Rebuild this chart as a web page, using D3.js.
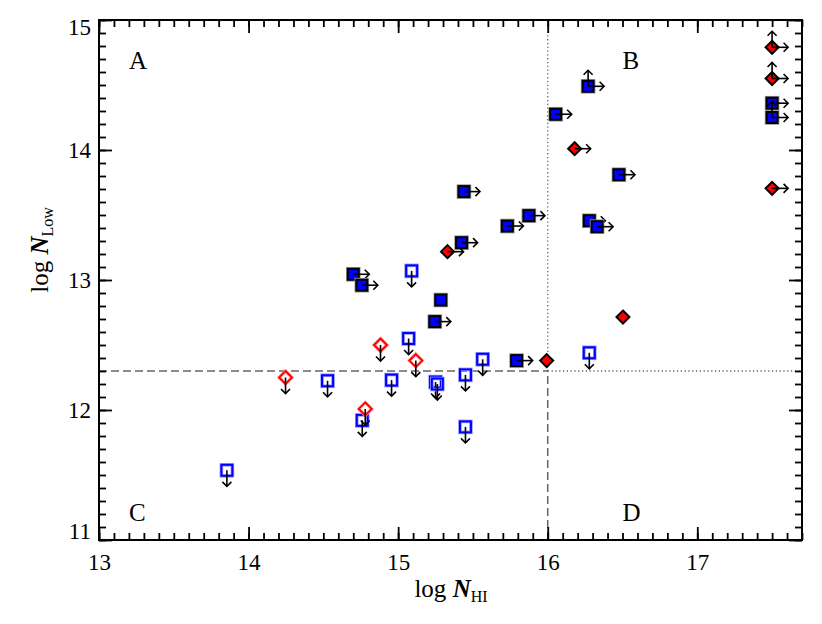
<!DOCTYPE html>
<html>
<head>
<meta charset="utf-8">
<script src="https://cdn.jsdelivr.net/npm/d3@7"></script>
<style>
  body { margin: 0; background: #fff; }
  svg { display: block; font-family: "Liberation Serif", "DejaVu Serif", serif; }
  svg text { font-family: "Liberation Serif", "DejaVu Serif", serif !important; }
</style>
</head>
<body>
<svg id="chart" width="822" height="624"></svg>
<script>
// limits: "r" = lower limit on N_HI (arrow right), "u" = lower limit on N_Low (arrow up)
const blueDetections = [
  [15.44, 13.68, "r"], [15.73, 13.415, "r"], [15.874, 13.495, "r"], [15.424, 13.287, "r"],
  [14.70, 13.044, "r"], [14.757, 12.96, "r"], [15.285, 12.846, ""], [15.245, 12.68, "r"],
  [17.5, 14.36, "r"], [17.5, 14.25, "ur"], [16.27, 14.49, "ur"], [16.053, 14.275, "r"],
  [16.476, 13.81, "r"], [16.278, 13.456, "r"], [16.33, 13.41, "r"], [15.792, 12.38, "r"]
];
const redDetections = [
  [15.33, 13.218, "r"], [17.5, 14.79, "ur"], [17.5, 14.55, "ur"], [17.5, 13.705, "r"],
  [16.18, 14.01, "r"], [16.503, 12.715, ""], [15.993, 12.38, ""]
];
// upper limits on N_Low (arrow down)
const blueUpperLimits = [
  [15.09, 13.07], [16.278, 12.44], [15.07, 12.55], [14.528, 12.225], [14.956, 12.23],
  [15.25, 12.215], [15.262, 12.2], [15.45, 12.27], [15.565, 12.39], [14.76, 11.92],
  [15.45, 11.87], [13.855, 11.536]
];
const redUpperLimits = [
  [14.882, 12.50], [15.118, 12.38], [14.247, 12.25], [14.78, 12.008]
];
const xTicks = [13, 14, 15, 16, 17];
const yTicks = [11, 12, 13, 14, 15];
const nhiCut = 16;
const nlowCut = 12.3;
const quadrants = [["A", 13.2, 14.62], ["B", 16.5, 14.62], ["C", 13.2, 11.15], ["D", 16.5, 11.15]];

const svg = d3.select("#chart");
const margin = { left: 99, right: 20, top: 20, bottom: 84 };
const width = 822, height = 624;
const serif = "Liberation Serif, DejaVu Serif, serif";

const x = d3.scaleLinear().domain([13, 17.7]).range([margin.left, width - margin.right]);
const y = d3.scaleLinear().domain([11, 15]).range([height - margin.bottom, margin.top]);

const x0 = x.range()[0], x1 = x.range()[1];
const y0 = y.range()[0], y1 = y.range()[1];

// reference cuts
const refs = svg.append("g").attr("stroke", "#666").attr("fill", "none");
refs.append("line")
  .attr("x1", x0).attr("x2", x(nhiCut)).attr("y1", y(nlowCut)).attr("y2", y(nlowCut))
  .attr("stroke-width", 1.5).attr("stroke-dasharray", "8,4");
refs.append("line")
  .attr("x1", x(nhiCut)).attr("x2", x1).attr("y1", y(nlowCut)).attr("y2", y(nlowCut))
  .attr("stroke-width", 1.3).attr("stroke-dasharray", "1.3,2.5");
refs.append("line")
  .attr("x1", x(nhiCut)).attr("x2", x(nhiCut)).attr("y1", y0).attr("y2", y(nlowCut))
  .attr("stroke-width", 1.5).attr("stroke-dasharray", "8,4");
refs.append("line")
  .attr("x1", x(nhiCut)).attr("x2", x(nhiCut)).attr("y1", y(nlowCut)).attr("y2", y1)
  .attr("stroke-width", 1.3).attr("stroke-dasharray", "1.3,2.5");

// axes with minor ticks on all four sides
const xMinor = d3.range(13, 17.71, 0.1);
const yMinor = d3.range(11, 15.01, 0.1);

function drawAxis(axis, transform) {
  const g = svg.append("g").attr("transform", transform).call(axis);
  g.attr("font-family", serif).attr("font-size", 23);
  g.select(".domain").remove();
  g.selectAll("line").attr("stroke", "#000").attr("stroke-width", 1.8);
  g.selectAll("text").attr("fill", "#000").style("font-family", serif).style("font-size", "23px");
  return g;
}

drawAxis(d3.axisBottom(x).tickValues(xMinor).tickSize(-7).tickFormat(""), `translate(0,${y0})`);
drawAxis(d3.axisTop(x).tickValues(xMinor).tickSize(-7).tickFormat(""), `translate(0,${y1})`);
drawAxis(d3.axisLeft(y).tickValues(yMinor).tickSize(-7).tickFormat(""), `translate(${x0},0)`);
drawAxis(d3.axisRight(y).tickValues(yMinor).tickSize(-7).tickFormat(""), `translate(${x1},0)`);

drawAxis(d3.axisBottom(x).tickValues(xTicks).tickSize(-13).tickPadding(14).tickFormat(d3.format("d")), `translate(0,${y0})`);
drawAxis(d3.axisTop(x).tickValues(xTicks).tickSize(-13).tickFormat(""), `translate(0,${y1})`);
const yl = drawAxis(d3.axisLeft(y).tickValues(yTicks).tickSize(-13).tickPadding(8).tickFormat(d3.format("d")), `translate(${x0},0)`);
drawAxis(d3.axisRight(y).tickValues(yTicks).tickSize(-13).tickFormat(""), `translate(${x1},0)`);

yl.selectAll("text")
  .attr("dy", d => d === 15 ? "0.62em" : d === 11 ? "-0.05em" : "0.32em");

svg.append("rect")
  .attr("x", x0).attr("y", y1).attr("width", x1 - x0).attr("height", y0 - y1)
  .attr("fill", "none").attr("stroke", "#000").attr("stroke-width", 2);

// quadrant labels
svg.append("g").selectAll("text").data(quadrants).join("text")
  .attr("x", d => x(d[1])).attr("y", d => y(d[2]))
  .attr("font-size", 25).attr("fill", "#000")
  .text(d => d[0]);

// axis titles
const xt = svg.append("text").attr("x", 451).attr("y", 597).attr("text-anchor", "middle")
  .attr("font-size", 25).attr("fill", "#000");
xt.append("tspan").text("log ");
xt.append("tspan").attr("font-weight", "bold").attr("font-style", "italic").text("N");
xt.append("tspan").attr("font-size", 16).attr("dy", 5).text("HI");

const yt = svg.append("text").attr("transform", "translate(48,250) rotate(-90)").attr("text-anchor", "middle")
  .attr("font-size", 25).attr("fill", "#000");
yt.append("tspan").text("log ");
yt.append("tspan").attr("font-weight", "bold").attr("font-style", "italic").text("N");
yt.append("tspan").attr("font-size", 16).attr("dy", 5).text("Low");

// markers
const half = 5.5;
const dHalf = 6.5;
const arrowLen = 16;
const marks = svg.append("g");

function arrow(g, cx, cy, dx, dy) {
  const tx = cx + dx * arrowLen, ty = cy + dy * arrowLen;
  const px = -dy, py = dx;
  g.append("line").attr("x1", cx).attr("y1", cy).attr("x2", tx).attr("y2", ty)
    .attr("stroke", "#000").attr("stroke-width", 1.6);
  g.append("path")
    .attr("d", `M${tx - dx * 4.5 + px * 4.5},${ty - dy * 4.5 + py * 4.5}L${tx},${ty}L${tx - dx * 4.5 - px * 4.5},${ty - dy * 4.5 - py * 4.5}`)
    .attr("fill", "none").attr("stroke", "#000").attr("stroke-width", 1.6);
}

function limits(g, cx, cy, flags) {
  if (flags.includes("u")) arrow(g, cx, cy, 0, -1);
  if (flags.includes("r")) arrow(g, cx, cy, 1, 0);
  if (flags.includes("d")) arrow(g, cx, cy, 0, 1);
}

function square(g, cx, cy, filled) {
  g.append("rect").attr("x", cx - half).attr("y", cy - half).attr("width", 2 * half).attr("height", 2 * half)
    .attr("fill", filled ? "#0000ff" : "none").attr("stroke", filled ? "#999" : "#9999ff").attr("stroke-width", 3.6);
  g.append("rect").attr("x", cx - half).attr("y", cy - half).attr("width", 2 * half).attr("height", 2 * half)
    .attr("fill", filled ? "#0000ff" : "none").attr("stroke", filled ? "#000" : "#0000ff").attr("stroke-width", 2);
}

function diamond(g, cx, cy, filled) {
  const d = `M${cx},${cy - dHalf}L${cx + dHalf},${cy}L${cx},${cy + dHalf}L${cx - dHalf},${cy}Z`;
  if (filled) {
    g.append("path").attr("d", d).attr("fill", "#ff0000").attr("stroke", "#000").attr("stroke-width", 2);
  } else {
    g.append("path").attr("d", d).attr("fill", "none").attr("stroke", "#ff9999").attr("stroke-width", 3.2);
    g.append("path").attr("d", d).attr("fill", "none").attr("stroke", "#ff0000").attr("stroke-width", 1.8);
  }
}

blueUpperLimits.forEach(([a, b]) => {
  const g = marks.append("g");
  square(g, x(a), y(b), false);
  limits(g, x(a), y(b), "d");
});
redUpperLimits.forEach(([a, b]) => {
  const g = marks.append("g");
  diamond(g, x(a), y(b), false);
  limits(g, x(a), y(b), "d");
});
blueDetections.forEach(([a, b, f]) => {
  const g = marks.append("g");
  square(g, x(a), y(b), true);
  limits(g, x(a), y(b), f);
});
redDetections.forEach(([a, b, f]) => {
  const g = marks.append("g");
  diamond(g, x(a), y(b), true);
  limits(g, x(a), y(b), f);
});
</script>
</body>
</html>
